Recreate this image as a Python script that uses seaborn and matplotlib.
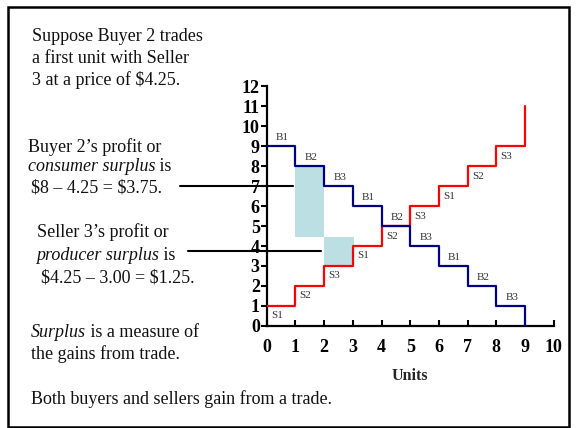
import numpy as np
import pandas as pd
import matplotlib
matplotlib.use("Agg")
import matplotlib.pyplot as plt
import matplotlib.patches as patches
import seaborn as sns

# Data
units = [0, 1, 2, 3, 4, 5, 6, 7, 8, 9]
supply_price = [1, 2, 3, 4, 5, 6, 7, 8, 9, 11]
demand_price = [9, 8, 7, 6, 5, 4, 3, 2, 1, 0]
supply_labels = ["S1", "S2", "S3", "S1", "S2", "S3", "S1", "S2", "S3"]
demand_labels = ["B1", "B2", "B3", "B1", "B2", "B3", "B1", "B2", "B3"]
trade_price = 4.45          # bottom/top of the shaded boxes as drawn
buyer_value = 8
seller_cost = 3
consumer_line_y = 7
producer_line_y = 3.75

W, H = 577, 428
sns.set_theme(style="white")
plt.rcParams["font.family"] = ["Liberation Serif", "DejaVu Serif"]

fig = plt.figure(figsize=(W / 100, H / 100), dpi=100)
ax = fig.add_axes([266.7 / W, (H - 326) / H, 287 / W, 240 / H])

# surplus boxes
ax.bar([1], [buyer_value - trade_price], bottom=[trade_price], width=1, align="edge",
       color="#BCDFE3", zorder=1, linewidth=0)
ax.bar([2], [trade_price - seller_cost], bottom=[seller_cost], width=1.05, align="edge",
       color="#BCDFE3", zorder=1, linewidth=0)

df = pd.DataFrame({"units": units, "supply": supply_price, "demand": demand_price})
sns.lineplot(data=df, x="units", y="supply", ax=ax, color="#FF0000", lw=1.6,
             drawstyle="steps-post", estimator=None, sort=False, zorder=3)
sns.lineplot(data=df, x="units", y="demand", ax=ax, color="#000080", lw=1.6,
             drawstyle="steps-post", estimator=None, sort=False, zorder=4)

for i, lab in enumerate(supply_labels):
    ax.text(units[i] + 0.15, supply_price[i] - 0.5, lab, fontsize=8, color="#333333",
            ha="left", va="center", zorder=5)
for i, lab in enumerate(demand_labels):
    ax.text(units[i] + 0.55, demand_price[i] + 0.45, lab, fontsize=8, color="#333333",
            ha="center", va="center", zorder=5)

# connector lines from the text
ax.plot([(180 - 266.7) / 28.7, 0.93], [consumer_line_y, consumer_line_y], color="black",
        lw=1.5, clip_on=False, zorder=6)
ax.plot([(188 - 266.7) / 28.7, 1.9], [producer_line_y, producer_line_y], color="black",
        lw=1.5, clip_on=False, zorder=6)

ax.set_xlim(0, 10)
ax.set_ylim(0, 12)
ax.set_xticks(range(0, 11))
ax.set_yticks(range(0, 13))
for s in ["top", "right"]:
    ax.spines[s].set_visible(False)
for s in ["left", "bottom"]:
    ax.spines[s].set_color("black")
    ax.spines[s].set_linewidth(1.6)
ax.tick_params(axis="x", direction="in", length=4, width=1.5, pad=9, labelsize=13, colors="black")
ax.tick_params(axis="y", direction="out", length=4, width=1.5, pad=1, labelsize=13, colors="black")
ax.tick_params(left=True, bottom=True)
for t in ax.get_xticklabels() + ax.get_yticklabels():
    t.set_fontweight("bold")
ax.set_xlabel("Units", fontsize=11.5, fontweight="bold", labelpad=9)
ax.set_ylabel("")
ax.set_facecolor("none")

# left text, each line: (x px, y px, [(text, style)])
lines = [
    (31.7, 36.7, [("Suppose Buyer 2 trades", "normal")]),
    (31.7, 58.3, [("a first unit with Seller", "normal")]),
    (31.7, 80.0, [("3 at a price of \\$4.25.", "normal")]),
    (27.7, 146.7, [("Buyer 2\u2019s profit or", "normal")]),
    (27.7, 166.7, [("consumer surplus", "italic"), (" is", "normal")]),
    (30.7, 188.0, [("\\$8 \u2013 4.25 = \\$3.75.", "normal")]),
    (36.7, 232.3, [("Seller 3\u2019s profit or", "normal")]),
    (36.0, 255.0, [("producer surplus", "italic"), (" is", "normal")]),
    (40.7, 278.3, [("\\$4.25 \u2013 3.00 = \\$1.25.", "normal")]),
    (31.0, 332.3, [("Surplus", "italic"), ("is a measure of", "normal")]),
    (31.0, 354.3, [("the gains from trade.", "normal")]),
    (31.0, 399.0, [("Both buyers and sellers gain from a trade.", "normal")]),
]
for x, y, segs in lines:
    prev = None
    for txt, style in segs:
        if prev is None:
            prev = fig.text(x / W, 1 - y / H, txt, fontsize=13, style=style,
                            ha="left", va="center", color="#111111")
        else:
            prev = ax.annotate(" " + txt.lstrip(), xy=(1, 0), xycoords=prev, fontsize=13,
                               style=style, ha="left", va="bottom", color="#111111",
                               annotation_clip=False)

fig.add_artist(patches.Rectangle((8 / W, 1.5 / H), 561 / W, (H - 8.5) / H,
                                 transform=fig.transFigure, fill=False,
                                 edgecolor="black", linewidth=1.8))

fig.savefig("out.png", dpi=100)
